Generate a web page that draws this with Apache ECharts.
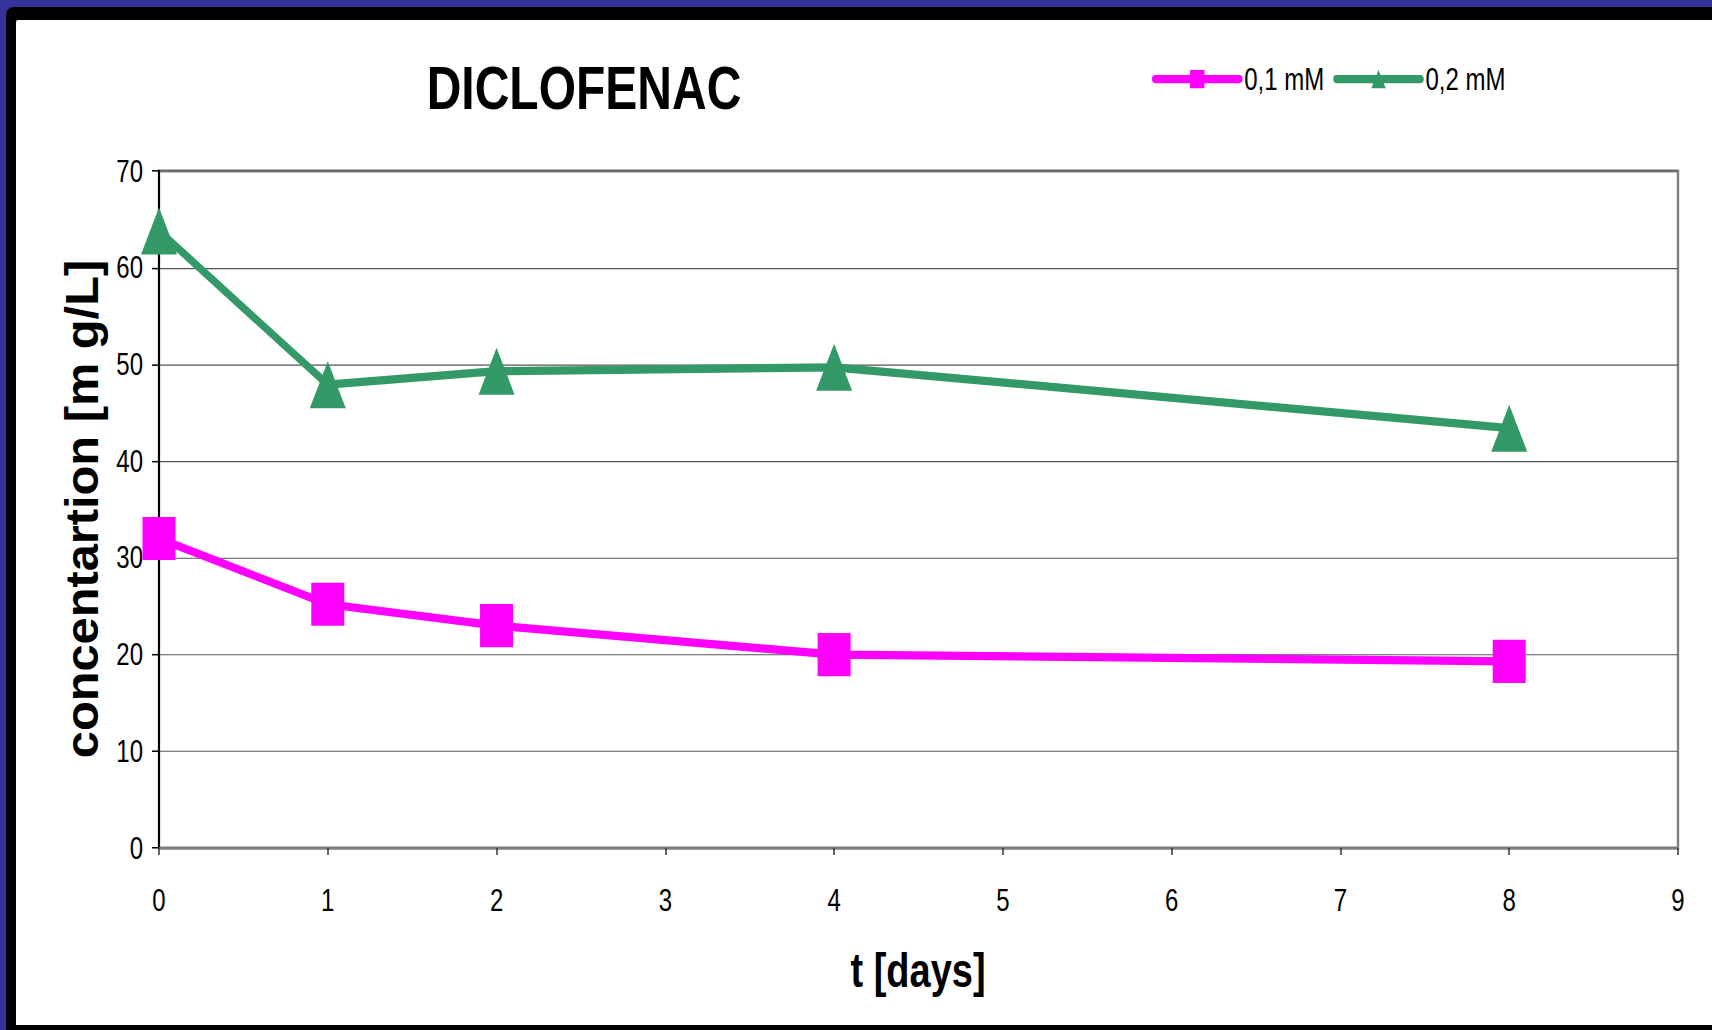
<!DOCTYPE html>
<html>
<head>
<meta charset="utf-8">
<script src="https://cdn.jsdelivr.net/npm/echarts@6/dist/echarts.min.js"></script>
<style>
  html, body { margin: 0; padding: 0; overflow: hidden; background: #333399; }
  #frame { position: absolute; left: 6px; top: 7px; width: 1740px; height: 1060px; background: #000; border-radius: 8px; }
  #paper { position: absolute; left: 16px; top: 20px; width: 1720px; height: 1005px; background: #fff; border-top-left-radius: 2px; }
  /* the chart is laid out on a shorter canvas and stretched vertically,
     which gives the tall, narrow lettering of the original sheet */
  #chart { position: absolute; left: 0; top: 0; width: 1712px; height: 811px;
           transform: scaleY(1.27004); transform-origin: 0 0; }
</style>
</head>
<body>
<div id="frame"></div>
<div id="paper"></div>
<div id="chart"></div>
<script>
// Sampling days and measured concentrations (mg/L)
const days = [0, 1, 2, 4, 8];
const conc01mM = [32.0, 25.2, 23.0, 20.0, 19.3];
const conc02mM = [63.8, 47.9, 49.3, 49.7, 43.4];
const seriesNames = ['0,1 mM', '0,2 mM'];
const titleText = 'DICLOFENAC';
const xAxisTitle = 't [days]';
const yAxisTitle = 'concentartion [m g/L]';

const STRETCH = 1030 / 811;
const SANS = "'Liberation Sans', Arial, sans-serif";

const toPoints = (values) => days.map((d, i) => [d, values[i]]);

const chart = echarts.init(document.getElementById('chart'), null, { renderer: 'svg' });

chart.setOption({
  animation: false,
  backgroundColor: 'transparent',
  textStyle: { fontFamily: SANS },
  grid: {
    left: 159, right: 34, top: 134.6, bottom: 143.3,
    show: true, borderColor: '#808080', borderWidth: 2.4, backgroundColor: 'transparent'
  },
  legend: {
    data: seriesNames,
    left: 1152, top: 50.3,
    padding: 0,
    itemWidth: 84, itemHeight: 18, itemGap: 9,
    lineStyle: { width: 6.5, cap: 'round' },
    textStyle: { fontSize: 24, fontFamily: SANS, color: '#000' }
  },
  xAxis: {
    type: 'value', min: 0, max: 9, interval: 1,
    axisLine: { show: true, lineStyle: { color: '#808080', width: 1.6 } },
    axisTick: { show: true, inside: false, length: 5.5, lineStyle: { color: '#333', width: 1.5 } },
    axisLabel: { fontSize: 24, fontFamily: SANS, color: '#000', margin: 29 },
    splitLine: { show: false }
  },
  yAxis: {
    type: 'value', min: 0, max: 70, interval: 10,
    axisLine: { show: true, lineStyle: { color: '#000', width: 2 } },
    axisTick: { show: true, inside: false, length: 7, lineStyle: { color: '#000', width: 1.2 } },
    axisLabel: { fontSize: 24, fontFamily: SANS, color: '#000', margin: 16 },
    splitLine: { show: true, lineStyle: { color: '#555', width: 0.85 } }
  },
  series: [
    {
      name: seriesNames[0], type: 'line', data: toPoints(conc01mM),
      symbol: 'rect', symbolSize: [33, 34], clip: false,
      lineStyle: { color: '#FF00FF', width: 6.5 },
      itemStyle: { color: '#FF00FF' }, z: 3
    },
    {
      name: seriesNames[1], type: 'line', data: toPoints(conc02mM),
      symbol: 'triangle', symbolSize: [36, 37], clip: false,
      lineStyle: { color: '#339966', width: 6.5 },
      itemStyle: { color: '#339966' }, z: 2
    }
  ],
  graphic: [
    {
      type: 'text', x: 584, y: 69.2,
      style: {
        text: titleText, fontSize: 48, fontWeight: 'bold', fontFamily: SANS, fill: '#000',
        align: 'center', verticalAlign: 'middle', textAlign: 'center', textVerticalAlign: 'middle'
      }
    },
    {
      type: 'text', x: 918, y: 764,
      style: {
        text: xAxisTitle, fontSize: 38, fontWeight: 'bold', fontFamily: SANS, fill: '#000',
        align: 'center', verticalAlign: 'middle', textAlign: 'center', textVerticalAlign: 'middle'
      }
    },
    {
      // rotated title: mostly undo the vertical stretch along its reading direction
      type: 'text', x: 82, y: 400.8, rotation: Math.PI / 2, scaleX: 1.037 / STRETCH, scaleY: 1,
      style: {
        text: yAxisTitle, fontSize: 47, fontWeight: 'bold', fontFamily: SANS, fill: '#000',
        align: 'center', verticalAlign: 'middle', textAlign: 'center', textVerticalAlign: 'middle'
      }
    }
  ]
});
</script>
</body>
</html>
